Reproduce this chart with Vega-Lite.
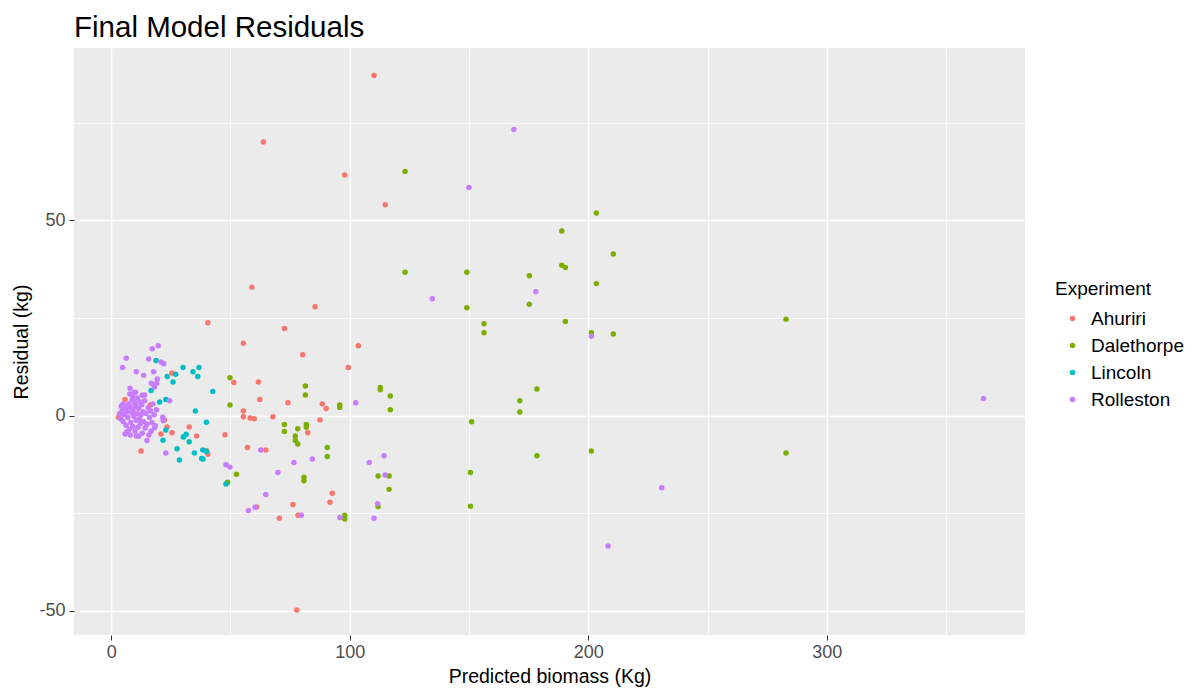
{
  "$schema": "https://vega.github.io/schema/vega-lite/v6.json",
  "width": 951,
  "height": 587,
  "autosize": {"type": "none"},
  "padding": {"left": 74, "top": 48, "right": 173, "bottom": 56},
  "background": "white",
  "title": {
    "text": "Final Model Residuals",
    "anchor": "start",
    "frame": "group",
    "font": "Liberation Sans",
    "fontSize": 29.5,
    "fontWeight": "normal",
    "color": "black",
    "offset": 5
  },
  "config": {
    "view": {"fill": "#EBEBEB", "stroke": null},
    "axis": {
      "domain": false,
      "grid": true,
      "gridColor": "white",
      "labelFont": "Liberation Sans",
      "labelFontSize": 18,
      "labelColor": "#4D4D4D",
      "tickColor": "#333333",
      "tickSize": 5,
      "tickWidth": 1,
      "titleFont": "Liberation Sans",
      "titleFontSize": 19.5,
      "titleFontWeight": "normal",
      "titleColor": "black"
    },
    "legend": {
      "orient": "none",
      "legendX": 981,
      "legendY": 232,
      "padding": 0,
      "titleFont": "Liberation Sans",
      "titleFontSize": 19,
      "titleFontWeight": "normal",
      "titleColor": "black",
      "titlePadding": 10,
      "labelFont": "Liberation Sans",
      "labelFontSize": 19,
      "labelColor": "black",
      "symbolType": "circle",
      "symbolSize": 30,
      "symbolOffset": 8,
      "labelOffset": 9,
      "rowPadding": 7
    }
  },
  "datasets": {
    "pts": [
      {"pred": 110.2, "resid": 87.1, "Experiment": "Ahuriri"},
      {"pred": 63.8, "resid": 70.1, "Experiment": "Ahuriri"},
      {"pred": 97.9, "resid": 61.6, "Experiment": "Ahuriri"},
      {"pred": 114.9, "resid": 54.0, "Experiment": "Ahuriri"},
      {"pred": 59.0, "resid": 32.9, "Experiment": "Ahuriri"},
      {"pred": 85.5, "resid": 27.9, "Experiment": "Ahuriri"},
      {"pred": 40.5, "resid": 23.8, "Experiment": "Ahuriri"},
      {"pred": 72.6, "resid": 22.3, "Experiment": "Ahuriri"},
      {"pred": 55.4, "resid": 18.5, "Experiment": "Ahuriri"},
      {"pred": 103.6, "resid": 17.9, "Experiment": "Ahuriri"},
      {"pred": 80.3, "resid": 15.6, "Experiment": "Ahuriri"},
      {"pred": 99.4, "resid": 12.3, "Experiment": "Ahuriri"},
      {"pred": 51.4, "resid": 8.5, "Experiment": "Ahuriri"},
      {"pred": 61.7, "resid": 8.6, "Experiment": "Ahuriri"},
      {"pred": 62.3, "resid": 4.1, "Experiment": "Ahuriri"},
      {"pred": 74.1, "resid": 3.3, "Experiment": "Ahuriri"},
      {"pred": 88.5, "resid": 3.0, "Experiment": "Ahuriri"},
      {"pred": 90.1, "resid": 1.8, "Experiment": "Ahuriri"},
      {"pred": 55.4, "resid": 1.2, "Experiment": "Ahuriri"},
      {"pred": 55.4, "resid": -0.3, "Experiment": "Ahuriri"},
      {"pred": 58.2, "resid": -0.6, "Experiment": "Ahuriri"},
      {"pred": 60.0, "resid": -0.8, "Experiment": "Ahuriri"},
      {"pred": 67.8, "resid": -0.3, "Experiment": "Ahuriri"},
      {"pred": 87.5, "resid": -1.1, "Experiment": "Ahuriri"},
      {"pred": 82.4, "resid": -4.4, "Experiment": "Ahuriri"},
      {"pred": 47.7, "resid": -4.9, "Experiment": "Ahuriri"},
      {"pred": 57.1, "resid": -8.2, "Experiment": "Ahuriri"},
      {"pred": 64.8, "resid": -8.8, "Experiment": "Ahuriri"},
      {"pred": 40.0, "resid": -9.0, "Experiment": "Ahuriri"},
      {"pred": 40.5, "resid": -9.9, "Experiment": "Ahuriri"},
      {"pred": 92.7, "resid": -19.9, "Experiment": "Ahuriri"},
      {"pred": 91.7, "resid": -22.2, "Experiment": "Ahuriri"},
      {"pred": 76.2, "resid": -22.8, "Experiment": "Ahuriri"},
      {"pred": 61.0, "resid": -23.4, "Experiment": "Ahuriri"},
      {"pred": 70.5, "resid": -26.3, "Experiment": "Ahuriri"},
      {"pred": 78.3, "resid": -25.5, "Experiment": "Ahuriri"},
      {"pred": 77.8, "resid": -49.8, "Experiment": "Ahuriri"},
      {"pred": 25.4, "resid": 10.9, "Experiment": "Ahuriri"},
      {"pred": 5.8, "resid": 4.1, "Experiment": "Ahuriri"},
      {"pred": 16.4, "resid": 2.7, "Experiment": "Ahuriri"},
      {"pred": 8.9, "resid": 0.6, "Experiment": "Ahuriri"},
      {"pred": 3.0, "resid": -0.4, "Experiment": "Ahuriri"},
      {"pred": 22.3, "resid": -1.1, "Experiment": "Ahuriri"},
      {"pred": 23.4, "resid": -2.9, "Experiment": "Ahuriri"},
      {"pred": 25.5, "resid": -4.4, "Experiment": "Ahuriri"},
      {"pred": 20.9, "resid": -4.7, "Experiment": "Ahuriri"},
      {"pred": 32.7, "resid": -2.9, "Experiment": "Ahuriri"},
      {"pred": 35.8, "resid": -5.2, "Experiment": "Ahuriri"},
      {"pred": 12.5, "resid": -9.1, "Experiment": "Ahuriri"},

      {"pred": 123.2, "resid": 62.5, "Experiment": "Dalethorpe"},
      {"pred": 123.2, "resid": 36.7, "Experiment": "Dalethorpe"},
      {"pred": 203.4, "resid": 51.9, "Experiment": "Dalethorpe"},
      {"pred": 188.9, "resid": 47.3, "Experiment": "Dalethorpe"},
      {"pred": 210.5, "resid": 41.4, "Experiment": "Dalethorpe"},
      {"pred": 188.9, "resid": 38.5, "Experiment": "Dalethorpe"},
      {"pred": 190.4, "resid": 37.9, "Experiment": "Dalethorpe"},
      {"pred": 149.1, "resid": 36.7, "Experiment": "Dalethorpe"},
      {"pred": 175.3, "resid": 35.8, "Experiment": "Dalethorpe"},
      {"pred": 203.4, "resid": 33.8, "Experiment": "Dalethorpe"},
      {"pred": 149.1, "resid": 27.6, "Experiment": "Dalethorpe"},
      {"pred": 175.3, "resid": 28.5, "Experiment": "Dalethorpe"},
      {"pred": 156.3, "resid": 23.5, "Experiment": "Dalethorpe"},
      {"pred": 156.3, "resid": 21.2, "Experiment": "Dalethorpe"},
      {"pred": 190.4, "resid": 24.1, "Experiment": "Dalethorpe"},
      {"pred": 201.3, "resid": 21.2, "Experiment": "Dalethorpe"},
      {"pred": 210.5, "resid": 20.9, "Experiment": "Dalethorpe"},
      {"pred": 178.5, "resid": 6.8, "Experiment": "Dalethorpe"},
      {"pred": 171.3, "resid": 3.8, "Experiment": "Dalethorpe"},
      {"pred": 171.3, "resid": 0.9, "Experiment": "Dalethorpe"},
      {"pred": 151.1, "resid": -1.6, "Experiment": "Dalethorpe"},
      {"pred": 178.5, "resid": -10.3, "Experiment": "Dalethorpe"},
      {"pred": 201.3, "resid": -9.1, "Experiment": "Dalethorpe"},
      {"pred": 150.6, "resid": -14.6, "Experiment": "Dalethorpe"},
      {"pred": 150.6, "resid": -23.2, "Experiment": "Dalethorpe"},
      {"pred": 282.9, "resid": 24.7, "Experiment": "Dalethorpe"},
      {"pred": 282.9, "resid": -9.6, "Experiment": "Dalethorpe"},
      {"pred": 49.8, "resid": 9.7, "Experiment": "Dalethorpe"},
      {"pred": 81.4, "resid": 7.6, "Experiment": "Dalethorpe"},
      {"pred": 81.4, "resid": 5.3, "Experiment": "Dalethorpe"},
      {"pred": 49.8, "resid": 2.7, "Experiment": "Dalethorpe"},
      {"pred": 95.8, "resid": 2.7, "Experiment": "Dalethorpe"},
      {"pred": 95.8, "resid": 2.1, "Experiment": "Dalethorpe"},
      {"pred": 112.8, "resid": 7.2, "Experiment": "Dalethorpe"},
      {"pred": 112.8, "resid": 6.6, "Experiment": "Dalethorpe"},
      {"pred": 117.0, "resid": 5.0, "Experiment": "Dalethorpe"},
      {"pred": 117.0, "resid": 1.5, "Experiment": "Dalethorpe"},
      {"pred": 72.6, "resid": -2.3, "Experiment": "Dalethorpe"},
      {"pred": 78.2, "resid": -3.4, "Experiment": "Dalethorpe"},
      {"pred": 81.8, "resid": -2.3, "Experiment": "Dalethorpe"},
      {"pred": 81.8, "resid": -3.0, "Experiment": "Dalethorpe"},
      {"pred": 72.6, "resid": -4.1, "Experiment": "Dalethorpe"},
      {"pred": 77.2, "resid": -5.2, "Experiment": "Dalethorpe"},
      {"pred": 77.2, "resid": -6.4, "Experiment": "Dalethorpe"},
      {"pred": 78.2, "resid": -7.3, "Experiment": "Dalethorpe"},
      {"pred": 90.6, "resid": -8.2, "Experiment": "Dalethorpe"},
      {"pred": 90.6, "resid": -10.5, "Experiment": "Dalethorpe"},
      {"pred": 52.5, "resid": -15.0, "Experiment": "Dalethorpe"},
      {"pred": 80.8, "resid": -15.8, "Experiment": "Dalethorpe"},
      {"pred": 80.8, "resid": -16.7, "Experiment": "Dalethorpe"},
      {"pred": 111.9, "resid": -15.5, "Experiment": "Dalethorpe"},
      {"pred": 116.5, "resid": -15.5, "Experiment": "Dalethorpe"},
      {"pred": 116.5, "resid": -18.9, "Experiment": "Dalethorpe"},
      {"pred": 48.8, "resid": -17.1, "Experiment": "Dalethorpe"},
      {"pred": 97.9, "resid": -25.5, "Experiment": "Dalethorpe"},
      {"pred": 97.9, "resid": -26.5, "Experiment": "Dalethorpe"},
      {"pred": 111.9, "resid": -23.3, "Experiment": "Dalethorpe"},

      {"pred": 18.8, "resid": 14.1, "Experiment": "Lincoln"},
      {"pred": 30.1, "resid": 12.3, "Experiment": "Lincoln"},
      {"pred": 36.8, "resid": 12.3, "Experiment": "Lincoln"},
      {"pred": 34.3, "resid": 11.2, "Experiment": "Lincoln"},
      {"pred": 36.3, "resid": 10.0, "Experiment": "Lincoln"},
      {"pred": 27.0, "resid": 10.6, "Experiment": "Lincoln"},
      {"pred": 23.5, "resid": 10.0, "Experiment": "Lincoln"},
      {"pred": 25.9, "resid": 8.6, "Experiment": "Lincoln"},
      {"pred": 16.7, "resid": 6.4, "Experiment": "Lincoln"},
      {"pred": 42.6, "resid": 6.2, "Experiment": "Lincoln"},
      {"pred": 22.9, "resid": 4.1, "Experiment": "Lincoln"},
      {"pred": 20.3, "resid": 3.5, "Experiment": "Lincoln"},
      {"pred": 35.3, "resid": 1.2, "Experiment": "Lincoln"},
      {"pred": 39.9, "resid": -1.7, "Experiment": "Lincoln"},
      {"pred": 22.9, "resid": -3.7, "Experiment": "Lincoln"},
      {"pred": 31.4, "resid": -4.8, "Experiment": "Lincoln"},
      {"pred": 30.5, "resid": -5.4, "Experiment": "Lincoln"},
      {"pred": 30.2, "resid": -5.5, "Experiment": "Lincoln"},
      {"pred": 21.7, "resid": -6.3, "Experiment": "Lincoln"},
      {"pred": 32.7, "resid": -6.7, "Experiment": "Lincoln"},
      {"pred": 27.6, "resid": -8.5, "Experiment": "Lincoln"},
      {"pred": 38.4, "resid": -8.8, "Experiment": "Lincoln"},
      {"pred": 39.9, "resid": -9.2, "Experiment": "Lincoln"},
      {"pred": 34.9, "resid": -9.6, "Experiment": "Lincoln"},
      {"pred": 28.6, "resid": -11.4, "Experiment": "Lincoln"},
      {"pred": 37.9, "resid": -11.0, "Experiment": "Lincoln"},
      {"pred": 38.5, "resid": -11.1, "Experiment": "Lincoln"},
      {"pred": 48.1, "resid": -17.5, "Experiment": "Lincoln"},

      {"pred": 134.6, "resid": 29.9, "Experiment": "Rolleston"},
      {"pred": 168.8, "resid": 73.3, "Experiment": "Rolleston"},
      {"pred": 150.0, "resid": 58.4, "Experiment": "Rolleston"},
      {"pred": 178.0, "resid": 31.7, "Experiment": "Rolleston"},
      {"pred": 201.3, "resid": 20.3, "Experiment": "Rolleston"},
      {"pred": 230.8, "resid": -18.5, "Experiment": "Rolleston"},
      {"pred": 208.3, "resid": -33.4, "Experiment": "Rolleston"},
      {"pred": 365.7, "resid": 4.4, "Experiment": "Rolleston"},
      {"pred": 102.5, "resid": 3.3, "Experiment": "Rolleston"},
      {"pred": 62.7, "resid": -8.8, "Experiment": "Rolleston"},
      {"pred": 84.3, "resid": -11.1, "Experiment": "Rolleston"},
      {"pred": 76.6, "resid": -12.0, "Experiment": "Rolleston"},
      {"pred": 108.2, "resid": -12.0, "Experiment": "Rolleston"},
      {"pred": 114.4, "resid": -10.3, "Experiment": "Rolleston"},
      {"pred": 48.1, "resid": -12.6, "Experiment": "Rolleston"},
      {"pred": 49.8, "resid": -13.2, "Experiment": "Rolleston"},
      {"pred": 69.9, "resid": -14.6, "Experiment": "Rolleston"},
      {"pred": 114.8, "resid": -15.2, "Experiment": "Rolleston"},
      {"pred": 64.8, "resid": -20.2, "Experiment": "Rolleston"},
      {"pred": 57.5, "resid": -24.3, "Experiment": "Rolleston"},
      {"pred": 60.3, "resid": -23.5, "Experiment": "Rolleston"},
      {"pred": 79.7, "resid": -25.5, "Experiment": "Rolleston"},
      {"pred": 95.9, "resid": -26.1, "Experiment": "Rolleston"},
      {"pred": 110.2, "resid": -26.3, "Experiment": "Rolleston"},
      {"pred": 111.7, "resid": -22.6, "Experiment": "Rolleston"},
      {"pred": 19.7, "resid": 17.9, "Experiment": "Rolleston"},
      {"pred": 17.2, "resid": 17.1, "Experiment": "Rolleston"},
      {"pred": 6.3, "resid": 14.7, "Experiment": "Rolleston"},
      {"pred": 20.9, "resid": 13.7, "Experiment": "Rolleston"},
      {"pred": 22.0, "resid": 13.3, "Experiment": "Rolleston"},
      {"pred": 15.7, "resid": 14.5, "Experiment": "Rolleston"},
      {"pred": 4.8, "resid": 12.3, "Experiment": "Rolleston"},
      {"pred": 10.5, "resid": 11.2, "Experiment": "Rolleston"},
      {"pred": 17.8, "resid": 11.2, "Experiment": "Rolleston"},
      {"pred": 13.6, "resid": 10.3, "Experiment": "Rolleston"},
      {"pred": 19.3, "resid": 9.4, "Experiment": "Rolleston"},
      {"pred": 16.8, "resid": 8.3, "Experiment": "Rolleston"},
      {"pred": 19.1, "resid": 8.3, "Experiment": "Rolleston"},
      {"pred": 18.1, "resid": 7.3, "Experiment": "Rolleston"},
      {"pred": 7.9, "resid": 7.0, "Experiment": "Rolleston"},
      {"pred": 9.6, "resid": 5.9, "Experiment": "Rolleston"},
      {"pred": 14.0, "resid": 5.3, "Experiment": "Rolleston"},
      {"pred": 24.5, "resid": 3.8, "Experiment": "Rolleston"},
      {"pred": 21.6, "resid": -0.4, "Experiment": "Rolleston"},
      {"pred": 21.8, "resid": -1.3, "Experiment": "Rolleston"},
      {"pred": 18.1, "resid": -3.1, "Experiment": "Rolleston"},
      {"pred": 16.7, "resid": -4.0, "Experiment": "Rolleston"},
      {"pred": 15.8, "resid": -5.0, "Experiment": "Rolleston"},
      {"pred": 5.8, "resid": -4.7, "Experiment": "Rolleston"},
      {"pred": 10.5, "resid": -5.2, "Experiment": "Rolleston"},
      {"pred": 15.0, "resid": -6.4, "Experiment": "Rolleston"},
      {"pred": 22.9, "resid": -9.6, "Experiment": "Rolleston"},
      {"pred": 3.5, "resid": 0.5, "Experiment": "Rolleston"},
      {"pred": 4.0, "resid": -0.8, "Experiment": "Rolleston"},
      {"pred": 4.5, "resid": 1.2, "Experiment": "Rolleston"},
      {"pred": 5.0, "resid": -1.5, "Experiment": "Rolleston"},
      {"pred": 5.5, "resid": 0.2, "Experiment": "Rolleston"},
      {"pred": 6.0, "resid": 2.0, "Experiment": "Rolleston"},
      {"pred": 6.2, "resid": -2.5, "Experiment": "Rolleston"},
      {"pred": 6.8, "resid": 1.0, "Experiment": "Rolleston"},
      {"pred": 7.0, "resid": -0.5, "Experiment": "Rolleston"},
      {"pred": 7.3, "resid": 3.0, "Experiment": "Rolleston"},
      {"pred": 7.5, "resid": -3.5, "Experiment": "Rolleston"},
      {"pred": 8.0, "resid": 2.2, "Experiment": "Rolleston"},
      {"pred": 8.2, "resid": -1.8, "Experiment": "Rolleston"},
      {"pred": 8.5, "resid": 0.8, "Experiment": "Rolleston"},
      {"pred": 8.8, "resid": 4.0, "Experiment": "Rolleston"},
      {"pred": 9.0, "resid": -2.8, "Experiment": "Rolleston"},
      {"pred": 9.2, "resid": 1.5, "Experiment": "Rolleston"},
      {"pred": 9.5, "resid": -0.2, "Experiment": "Rolleston"},
      {"pred": 9.8, "resid": 3.3, "Experiment": "Rolleston"},
      {"pred": 10.0, "resid": -4.0, "Experiment": "Rolleston"},
      {"pred": 10.3, "resid": 2.5, "Experiment": "Rolleston"},
      {"pred": 10.5, "resid": -1.2, "Experiment": "Rolleston"},
      {"pred": 10.8, "resid": 0.5, "Experiment": "Rolleston"},
      {"pred": 11.0, "resid": 4.5, "Experiment": "Rolleston"},
      {"pred": 11.2, "resid": -3.0, "Experiment": "Rolleston"},
      {"pred": 11.5, "resid": 1.8, "Experiment": "Rolleston"},
      {"pred": 11.8, "resid": -0.8, "Experiment": "Rolleston"},
      {"pred": 12.0, "resid": 3.5, "Experiment": "Rolleston"},
      {"pred": 12.3, "resid": -2.0, "Experiment": "Rolleston"},
      {"pred": 12.5, "resid": 0.2, "Experiment": "Rolleston"},
      {"pred": 12.8, "resid": 2.8, "Experiment": "Rolleston"},
      {"pred": 13.0, "resid": -4.5, "Experiment": "Rolleston"},
      {"pred": 13.3, "resid": 1.0, "Experiment": "Rolleston"},
      {"pred": 13.5, "resid": -1.5, "Experiment": "Rolleston"},
      {"pred": 14.0, "resid": 3.8, "Experiment": "Rolleston"},
      {"pred": 14.2, "resid": -3.2, "Experiment": "Rolleston"},
      {"pred": 14.5, "resid": 0.6, "Experiment": "Rolleston"},
      {"pred": 15.0, "resid": -2.2, "Experiment": "Rolleston"},
      {"pred": 15.5, "resid": 2.0, "Experiment": "Rolleston"},
      {"pred": 16.0, "resid": -0.5, "Experiment": "Rolleston"},
      {"pred": 16.5, "resid": 1.2, "Experiment": "Rolleston"},
      {"pred": 17.0, "resid": -1.8, "Experiment": "Rolleston"},
      {"pred": 17.5, "resid": 3.0, "Experiment": "Rolleston"},
      {"pred": 18.0, "resid": 0.2, "Experiment": "Rolleston"},
      {"pred": 18.5, "resid": -2.6, "Experiment": "Rolleston"},
      {"pred": 19.0, "resid": 1.5, "Experiment": "Rolleston"},
      {"pred": 6.5, "resid": -4.2, "Experiment": "Rolleston"},
      {"pred": 8.0, "resid": -5.0, "Experiment": "Rolleston"},
      {"pred": 11.5, "resid": -5.3, "Experiment": "Rolleston"},
      {"pred": 9.0, "resid": 5.0, "Experiment": "Rolleston"},
      {"pred": 13.0, "resid": 5.2, "Experiment": "Rolleston"},
      {"pred": 5.0, "resid": 3.0, "Experiment": "Rolleston"},
      {"pred": 4.2, "resid": 2.4, "Experiment": "Rolleston"},
      {"pred": 7.8, "resid": 5.5, "Experiment": "Rolleston"},
      {"pred": 10.2, "resid": 6.0, "Experiment": "Rolleston"}
    ]
  },
  "layer": [
    {
      "data": {"name": "pts"},
      "mark": {"type": "point", "filled": true, "size": 30, "opacity": 1, "strokeWidth": 0},
      "encoding": {
        "x": {
          "field": "pred",
          "type": "quantitative",
          "title": "Predicted biomass (Kg)",
          "scale": {"domain": [-15.6, 383.1], "nice": false, "zero": false},
          "axis": {
            "values": [0, 50, 100, 150, 200, 250, 300, 350],
            "labelExpr": "datum.value % 100 === 0 ? '' + datum.value : ''",
            "gridWidth": {"condition": {"test": "datum.value % 100 === 0", "value": 1.5}, "value": 0.8},
            "tickOpacity": {"condition": {"test": "datum.value % 100 === 0", "value": 1}, "value": 0},
            "labelPadding": 3,
            "titlePadding": 6
          }
        },
        "y": {
          "field": "resid",
          "type": "quantitative",
          "title": "Residual (kg)",
          "scale": {"domain": [-56.2, 94.15], "nice": false, "zero": false},
          "axis": {
            "values": [-50, -25, 0, 25, 50, 75],
            "labelExpr": "datum.value % 50 === 0 ? '' + datum.value : ''",
            "gridWidth": {"condition": {"test": "datum.value % 50 === 0", "value": 1.5}, "value": 0.8},
            "tickOpacity": {"condition": {"test": "datum.value % 50 === 0", "value": 1}, "value": 0},
            "labelPadding": 4,
            "titlePadding": 7
          }
        },
        "color": {
          "field": "Experiment",
          "type": "nominal",
          "scale": {
            "domain": ["Ahuriri", "Dalethorpe", "Lincoln", "Rolleston"],
            "range": ["#F8766D", "#7CAE00", "#00BFC4", "#C77CFF"]
          },
          "legend": {"title": "Experiment"}
        }
      }
    },
    {
      "mark": {"type": "rule", "color": "black", "strokeWidth": 1.1},
      "encoding": {"y": {"datum": 0}}
    }
  ]
}
